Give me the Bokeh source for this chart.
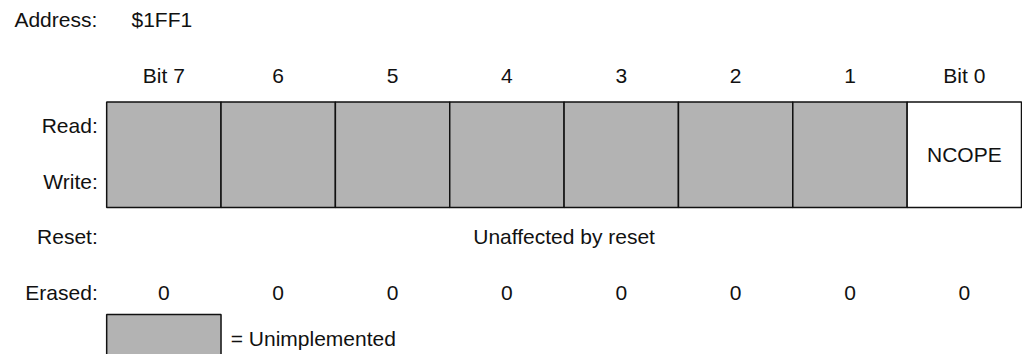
from bokeh.plotting import figure
from bokeh.models import Range1d, ColumnDataSource
from bokeh.core.properties import value
from bokeh.embed import file_html
from bokeh.resources import INLINE

address_label = "Address:"
address = "$1FF1"
bit_labels = ["Bit 7", "6", "5", "4", "3", "2", "1", "Bit 0"]
bit_names = ["", "", "", "", "", "", "", "NCOPE"]
implemented = [False, False, False, False, False, False, False, True]
row_labels = ["Read:", "Write:", "Reset:", "Erased:"]
reset_text = "Unaffected by reset"
erased_values = ["0", "0", "0", "0", "0", "0", "0", "0"]
legend_text = "= Unimplemented"

FONT = value("Liberation Sans")
FS = "21px"
TXT = "#111111"
GRAY = "#b3b3b3"

W, H = 1022, 354
p = figure(width=W, height=H, output_backend="svg", toolbar_location=None,
           x_range=Range1d(0, 1030), y_range=Range1d(H, 0),
           min_border=0, outline_line_color=None)
p.axis.visible = False
p.grid.visible = False
p.background_fill_color = "white"
p.border_fill_color = "white"

x0 = 107.0
cw = (1029.0 - x0) / len(bit_labels)
top, bottom = 101.5, 207.0
lefts = [x0 + i * cw for i in range(len(bit_labels))]
rights = [l + cw for l in lefts]
centers = [l + cw / 2 for l in lefts]
fills = ["white" if imp else GRAY for imp in implemented]

p.quad(left=lefts, right=rights, top=[top] * 8, bottom=[bottom] * 8,
       fill_color=fills, line_color="#111111", line_width=1.5)

def txt(xs, ys, texts, align="center"):
    src = ColumnDataSource(dict(x=xs, y=ys, t=texts))
    p.text(x="x", y="y", text="t", source=src, text_font=FONT, text_font_size=FS,
           text_color=TXT, text_align=align, text_baseline="middle")

# header
txt([14], [19], [address_label], "left")
txt([132], [19], [address], "left")
# bit labels
txt(centers, [75] * 8, bit_labels)
# bit names
mid = (top + bottom) / 2
txt(centers, [mid] * 8, bit_names)
# row labels
txt([98] * 4, [125, 181, 236, 292], row_labels, "right")
# reset
txt([(lefts[0] + rights[-1]) / 2], [236], [reset_text])
# erased
txt(centers, [292] * 8, erased_values)
# legend
p.quad(left=[lefts[0]], right=[rights[0]], top=[314], bottom=[368],
       fill_color=GRAY, line_color="#111111", line_width=1.5)
txt([232], [338], [legend_text], "left")

open("out.html", "w").write(file_html(p, INLINE))
